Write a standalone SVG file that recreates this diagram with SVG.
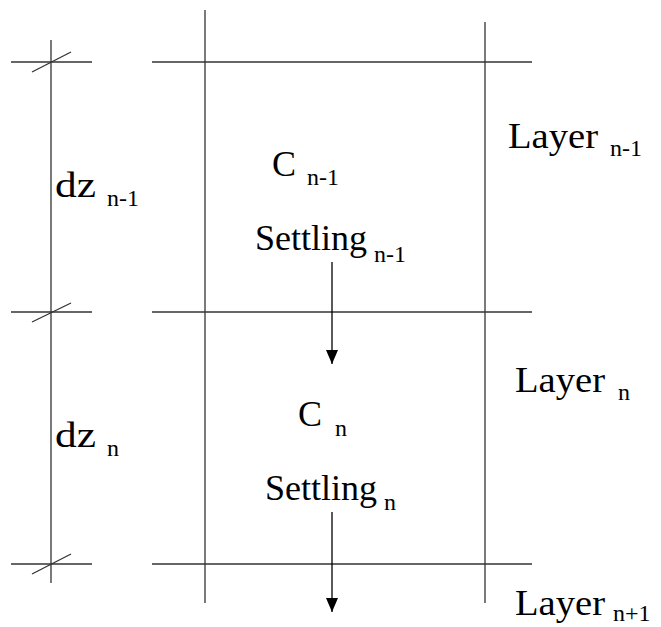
<svg xmlns="http://www.w3.org/2000/svg" width="661" height="627" viewBox="0 0 661 627">
<defs>
<marker id="ah" viewBox="0 0 14 12" refX="14" refY="6" markerWidth="14" markerHeight="12" markerUnits="userSpaceOnUse" orient="auto">
<path d="M0,0 L14,6 L0,12 Z" fill="#000"/>
</marker>
</defs>
<g id="grid" stroke="#333" stroke-width="1.3" fill="none">
<line x1="152" y1="62" x2="532" y2="62"/>
<line x1="152" y1="312" x2="532" y2="312"/>
<line x1="152" y1="564" x2="532" y2="564"/>
<line x1="205" y1="10" x2="205" y2="603"/>
<line x1="485" y1="22" x2="485" y2="603"/>
</g>
<g id="dimension" stroke="#333" stroke-width="1.3" fill="none">
<line x1="51" y1="40" x2="51" y2="583"/>
<line x1="11" y1="62" x2="92" y2="62"/>
<line x1="11" y1="312" x2="92" y2="312"/>
<line x1="11" y1="564" x2="92" y2="564"/>
<line x1="32" y1="72" x2="71" y2="52"/>
<line x1="32" y1="322" x2="71" y2="303"/>
<line x1="32" y1="574" x2="71" y2="554"/>
</g>
<g id="connectors" stroke="#000" stroke-width="1.3" fill="none">
<line x1="332" y1="262" x2="332" y2="364" marker-end="url(#ah)"/>
<line x1="332" y1="512" x2="332" y2="612" marker-end="url(#ah)"/>
</g>
<g id="layer-n-1">
<text font-family="Liberation Serif" font-size="36" x="508" y="148" textLength="90" lengthAdjust="spacingAndGlyphs">Layer</text>
<text font-family="Liberation Serif" font-size="24" x="610" y="156">n-1</text>
</g>
<g id="c-n-1">
<text font-family="Liberation Serif" font-size="36" x="272" y="176">C</text>
<text font-family="Liberation Serif" font-size="24" x="307" y="185">n-1</text>
</g>
<g id="dz-n-1">
<text font-family="Liberation Serif" font-size="36" x="55" y="197" textLength="41" lengthAdjust="spacingAndGlyphs">dz</text>
<text font-family="Liberation Serif" font-size="24" x="107" y="206">n-1</text>
</g>
<g id="settling-n-1">
<text font-family="Liberation Serif" font-size="36" x="255" y="250">Settling</text>
<text font-family="Liberation Serif" font-size="24" x="374" y="262">n-1</text>
</g>
<g id="layer-n">
<text font-family="Liberation Serif" font-size="36" x="515" y="392" textLength="90" lengthAdjust="spacingAndGlyphs">Layer</text>
<text font-family="Liberation Serif" font-size="24" x="618" y="400">n</text>
</g>
<g id="c-n">
<text font-family="Liberation Serif" font-size="36" x="298" y="426">C</text>
<text font-family="Liberation Serif" font-size="24" x="335" y="436">n</text>
</g>
<g id="dz-n">
<text font-family="Liberation Serif" font-size="36" x="55" y="447" textLength="41" lengthAdjust="spacingAndGlyphs">dz</text>
<text font-family="Liberation Serif" font-size="24" x="107" y="456">n</text>
</g>
<g id="settling-n">
<text font-family="Liberation Serif" font-size="36" x="265" y="500">Settling</text>
<text font-family="Liberation Serif" font-size="24" x="384" y="510">n</text>
</g>
<g id="layer-n-plus-1">
<text font-family="Liberation Serif" font-size="36" x="515" y="615" textLength="90" lengthAdjust="spacingAndGlyphs">Layer</text>
<text font-family="Liberation Serif" font-size="24" x="613" y="621">n+1</text>
</g>
</svg>
